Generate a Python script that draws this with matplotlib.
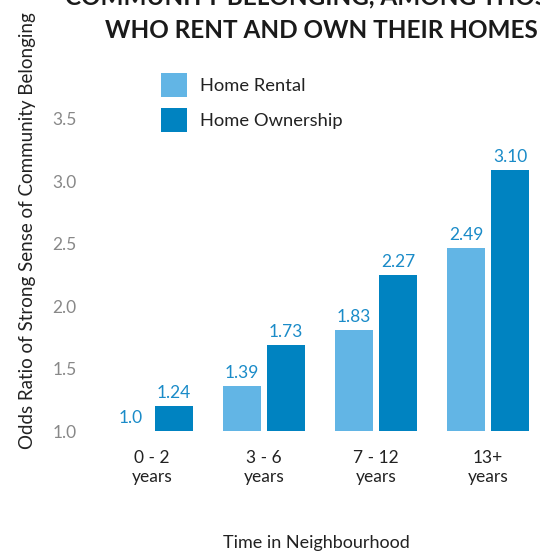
import matplotlib
matplotlib.use("Agg")
import matplotlib.pyplot as plt
from matplotlib.patches import Patch

categories = ["0 - 2\nyears", "3 - 6\nyears", "7 - 12\nyears", "13+\nyears"]
rental = [1.0, 1.36, 1.81, 2.47]
ownership = [1.20, 1.69, 2.25, 3.09]
rental_labels = ["1.0", "1.39", "1.83", "2.49"]
ownership_labels = ["1.24", "1.73", "2.27", "3.10"]
yticks = [1.0, 1.5, 2.0, 2.5, 3.0, 3.5]

plt.rcParams['font.family'] = ['Lato', 'DejaVu Sans']

light = "#62b5e5"
dark = "#0083c1"
lab_col = "#1a8bc8"

W, H = 540, 551
fig = plt.figure(figsize=(W/100, H/100), dpi=100)
ax = fig.add_axes([85/W, 120/H, 448/W, (431-94)/H])

x = list(range(len(categories)))
bw = 0.34
off = 0.196
base = 1.0
ax.bar([i - off for i in x], [v - base for v in rental], bw, bottom=base, color=light)
ax.bar([i + off for i in x], [v - base for v in ownership], bw, bottom=base, color=dark)

for i in x:
    ax.text(i - off, rental[i] + 0.04, rental_labels[i], ha='center', va='bottom',
            color=lab_col, fontsize=12.5)
    ax.text(i + off, ownership[i] + 0.04, ownership_labels[i], ha='center', va='bottom',
            color=lab_col, fontsize=12.5)

ax.set_xlim(-0.6, 3.4)
ax.set_ylim(1.0, 3.7)
ax.set_yticks(yticks)
ax.set_yticklabels([f"{t:.1f}" for t in yticks], color="#888888", fontsize=12.5)
for lbl in ax.get_yticklabels():
    lbl.set_verticalalignment('center_baseline')
ax.set_xticks(x)
ax.set_xticklabels(categories, color="#222222", fontsize=12.5, linespacing=1.2)
ax.tick_params(axis='both', length=0)
ax.tick_params(axis='y', pad=6)
ax.tick_params(axis='x', pad=14)
for s in ax.spines.values():
    s.set_visible(False)

handles = [Patch(facecolor=light, label="Home Rental"),
           Patch(facecolor=dark, label="Home Ownership")]
leg = ax.legend(handles=handles, loc='upper left', bbox_to_anchor=(69/448, 1.085),
                frameon=False, fontsize=13.2, handlelength=1.4, handleheight=1.65,
                labelspacing=0.6, handletextpad=0.7, borderaxespad=0)
for t in leg.get_texts():
    t.set_color("#222222")

fig.text(316/W, 1 - 543/H, "Time in Neighbourhood", ha='center', va='center',
         fontsize=13, color="#222222")
fig.text(28/W, 1 - 231/H, "Odds Ratio of Strong Sense of Community Belonging",
         rotation=90, ha='center', va='center', fontsize=13.5, color="#222222")

fig.text(65/W, 1 + 3/H, "COMMUNITY BELONGING, AMONG THOSE", ha='left', va='center',
         fontsize=17.5, fontweight='bold', color="#1a1a1a")
fig.text(105/W, 1 - 31/H, "WHO RENT AND OWN THEIR HOMES", ha='left', va='center',
         fontsize=17.5, fontweight='bold', color="#1a1a1a")

fig.savefig("out.png", dpi=100)
